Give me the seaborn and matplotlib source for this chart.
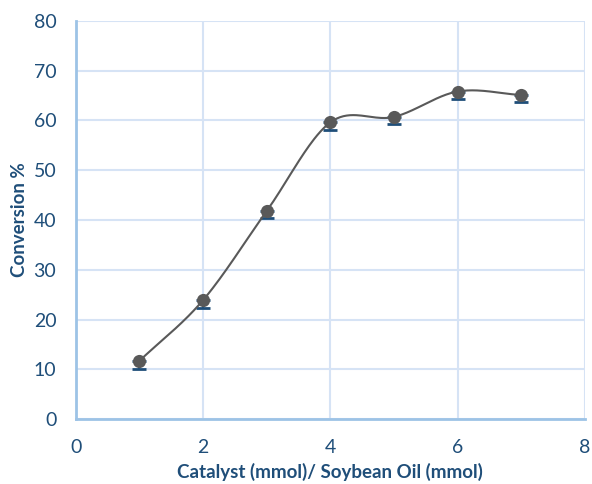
import numpy as np
import pandas as pd
import matplotlib
matplotlib.use("Agg")
import matplotlib.pyplot as plt
import seaborn as sns

# Catalyst loading vs. conversion
ratio = [1, 2, 3, 4, 5, 6, 7]
conversion = [11.7, 23.9, 41.8, 59.6, 60.7, 65.8, 65.1]
err_minus = [1.6, 1.5, 1.5, 1.5, 1.5, 1.5, 1.5]

x_ticks = [0, 2, 4, 6, 8]
y_ticks = [0, 10, 20, 30, 40, 50, 60, 70, 80]

TEXT = "#1F4E79"
GRID = "#D6E3F5"
SPINE = "#9DC3E6"
MARK = "#595959"


def smooth_curve(xs, ys, n=40, tension=0.5):
    """Cardinal-spline smoothing through the given points."""
    xs = np.asarray(xs, float)
    ys = np.asarray(ys, float)
    px = np.concatenate([[2 * xs[0] - xs[1]], xs, [2 * xs[-1] - xs[-2]]])
    py = np.concatenate([[2 * ys[0] - ys[1]], ys, [2 * ys[-1] - ys[-2]]])
    out_x, out_y = [], []
    t = np.linspace(0, 1, n)
    for i in range(1, len(px) - 2):
        m0x = tension * (px[i + 1] - px[i - 1])
        m1x = tension * (px[i + 2] - px[i])
        m0y = tension * (py[i + 1] - py[i - 1])
        m1y = tension * (py[i + 2] - py[i])
        h00 = 2 * t**3 - 3 * t**2 + 1
        h10 = t**3 - 2 * t**2 + t
        h01 = -2 * t**3 + 3 * t**2
        h11 = t**3 - t**2
        out_x.append(h00 * px[i] + h10 * m0x + h01 * px[i + 1] + h11 * m1x)
        out_y.append(h00 * py[i] + h10 * m0y + h01 * py[i + 1] + h11 * m1y)
    return np.concatenate(out_x), np.concatenate(out_y)


sns.set_theme(style="white")
plt.rcParams["font.family"] = ["Lato", "DejaVu Sans"]

df = pd.DataFrame({"ratio": ratio, "conversion": conversion})
sx, sy = smooth_curve(ratio, conversion)
curve = pd.DataFrame({"ratio": sx, "conversion": sy})

fig = plt.figure(figsize=(5.92, 4.84), dpi=100)
ax = fig.add_axes([0.128, 0.134, 0.86, 0.823])

sns.lineplot(data=curve, x="ratio", y="conversion", ax=ax, color=MARK,
             linewidth=1.5, sort=False, estimator=None, zorder=3)
ax.errorbar(ratio, conversion, yerr=[err_minus, [0] * len(ratio)], fmt="none",
            ecolor=TEXT, elinewidth=1.3, capsize=5, capthick=2, zorder=2)
sns.scatterplot(data=df, x="ratio", y="conversion", ax=ax, color=MARK,
                s=90, edgecolor=MARK, linewidth=0, zorder=4)

ax.set_xlim(0, 8)
ax.set_ylim(0, 80)
ax.set_xticks(x_ticks)
ax.set_yticks(y_ticks)
ax.grid(True, color=GRID, linewidth=1.5)
ax.set_axisbelow(True)

for side in ["top", "right"]:
    ax.spines[side].set_visible(False)
for side in ["left", "bottom"]:
    ax.spines[side].set_color(SPINE)
    ax.spines[side].set_linewidth(2)

ax.tick_params(axis="both", length=0, labelsize=14, labelcolor=TEXT)
ax.tick_params(axis="x", pad=14)
ax.tick_params(axis="y", pad=14)

ax.set_xlabel("Catalyst (mmol)/ Soybean Oil (mmol)", fontsize=13.5,
              fontweight="bold", color=TEXT, va="center")
ax.set_ylabel("Conversion %", fontsize=13.5, fontweight="bold", color=TEXT,
              va="center")
ax.xaxis.set_label_coords(0.5, -0.133)
ax.yaxis.set_label_coords(-0.11, 0.5)

fig.savefig("out.png", dpi=100, facecolor="white")
